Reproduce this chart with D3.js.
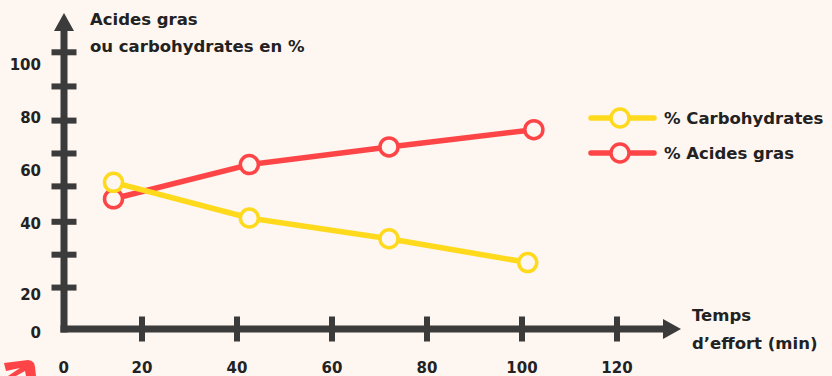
<!DOCTYPE html>
<html>
<head>
<meta charset="utf-8">
<script src="https://cdn.jsdelivr.net/npm/d3@7"></script>
<style>
  body { margin: 0; background: #fef6f0; }
  text { font-family: "DejaVu Sans", sans-serif; font-weight: 700; fill: #222; }
</style>
</head>
<body>
<div id="chart"></div>
<script>
const BG = "#fef6f0";
const AXIS = "#3b3b3b";
const YELLOW = "#ffd91c";
const RED = "#fd4548";

// temps d'effort (min)
const carboX = [14, 42.6, 72, 101.2];
const carboY = [55.6, 41.5, 33.3, 23.9];
const grasX = [14, 42.6, 72, 102.5];
const grasY = [49.1, 62.6, 69.6, 76.4];

const xTickMarks = [20, 40, 60, 80, 100, 120];
const xLabels = ["0", "20", "40", "60", "80", "100", "120"];
const xLabelAt = [3.5, 20, 40, 60, 80, 100, 120];
const yTickMarks = [14, 27, 40, 54, 67, 80, 93.5, 107];
const yLabels = ["0", "20", "40", "60", "80", "100"];
const yLabelAt = [-4, 11, 39, 60, 81, 102];

let width = 832, height = 376;
let svg = d3.select("#chart").append("svg").attr("width", width).attr("height", height);
svg.append("rect").attr("width", width).attr("height", height).attr("fill", BG);

let x = d3.scaleLinear().domain([20, 120]).range([142, 617]);
let y = d3.scaleLinear().domain([0, 100]).range([323, 70]);

let ox = 64, oy = 329;

// axes
let ax = svg.append("g").attr("fill", AXIS);
ax.append("line").attr("x1", ox).attr("x2", ox).attr("y1", oy + 3.5).attr("y2", 28)
  .attr("stroke", AXIS).attr("stroke-width", 7);
ax.append("path").attr("d", `M${ox - 10},31 L${ox},13 L${ox + 10},31 Z`);
ax.append("line").attr("x1", ox - 3.5).attr("x2", 665).attr("y1", oy).attr("y2", oy)
  .attr("stroke", AXIS).attr("stroke-width", 7);
ax.append("path").attr("d", `M663,${oy - 10} L681,${oy} L663,${oy + 10} Z`);

ax.selectAll(".yt").data(yTickMarks).join("rect").attr("class", "yt")
  .attr("x", ox - 12.5).attr("width", 25).attr("height", 6)
  .attr("y", d => y(d) - 3);
ax.selectAll(".xt").data(xTickMarks).join("rect").attr("class", "xt")
  .attr("y", oy - 12.5).attr("height", 25).attr("width", 6)
  .attr("x", d => x(d) - 3);

svg.selectAll(".yl").data(yLabels).join("text").attr("class", "yl")
  .attr("x", 41).attr("y", (d, i) => y(yLabelAt[i]))
  .attr("text-anchor", "end").attr("dominant-baseline", "central")
  .attr("font-size", 15).text(d => d);
svg.selectAll(".xl").data(xLabels).join("text").attr("class", "xl")
  .attr("x", (d, i) => x(xLabelAt[i])).attr("y", 368)
  .attr("text-anchor", "middle").attr("dominant-baseline", "central")
  .attr("font-size", 15).text(d => d);

// titles
svg.append("text").attr("x", 90).attr("y", 25).attr("font-size", 16.5).text("Acides gras");
svg.append("text").attr("x", 90).attr("y", 52).attr("font-size", 16.5).text("ou carbohydrates en %");
svg.append("text").attr("x", 692).attr("y", 321).attr("font-size", 16.5).text("Temps");
svg.append("text").attr("x", 692).attr("y", 349).attr("font-size", 16.5).text("d\u2019effort (min)");

// series
let series = [
  { name: "% Acides gras", xs: grasX, ys: grasY, color: RED },
  { name: "% Carbohydrates", xs: carboX, ys: carboY, color: YELLOW }
];
let line = d3.line().x(d => x(d[0])).y(d => y(d[1]));

series.forEach(s => {
  let pts = s.xs.map((v, i) => [v, s.ys[i]]);
  let g = svg.append("g");
  g.append("path").attr("d", line(pts)).attr("fill", "none")
    .attr("stroke", s.color).attr("stroke-width", 5.5).attr("stroke-linejoin", "round");
  g.selectAll("circle").data(pts).join("circle")
    .attr("cx", d => x(d[0])).attr("cy", d => y(d[1])).attr("r", 9)
    .attr("fill", BG).attr("stroke", s.color).attr("stroke-width", 3.5);
});

// legend
let legend = [
  { name: "% Carbohydrates", color: YELLOW, cy: 118 },
  { name: "% Acides gras", color: RED, cy: 153 }
];
let lg = svg.selectAll(".lg").data(legend).join("g").attr("class", "lg")
  .attr("transform", d => `translate(0,${d.cy})`);
lg.append("line").attr("x1", 591).attr("x2", 654).attr("stroke", d => d.color)
  .attr("stroke-width", 5.5).attr("stroke-linecap", "round");
lg.append("circle").attr("cx", 620).attr("r", 9).attr("fill", BG)
  .attr("stroke", d => d.color).attr("stroke-width", 3.5);
lg.append("text").attr("x", 664).attr("dominant-baseline", "central")
  .attr("font-size", 16.5).text(d => d.name);

// red arrow in corner
svg.append("path").attr("fill", RED)
  .attr("d", "M4,363 L28,360 Q35,361 35,367 L36,376 L26,376 L25,371 L16,376 L8,376 L20,368 L6,371 Z");
</script>
</body>
</html>
